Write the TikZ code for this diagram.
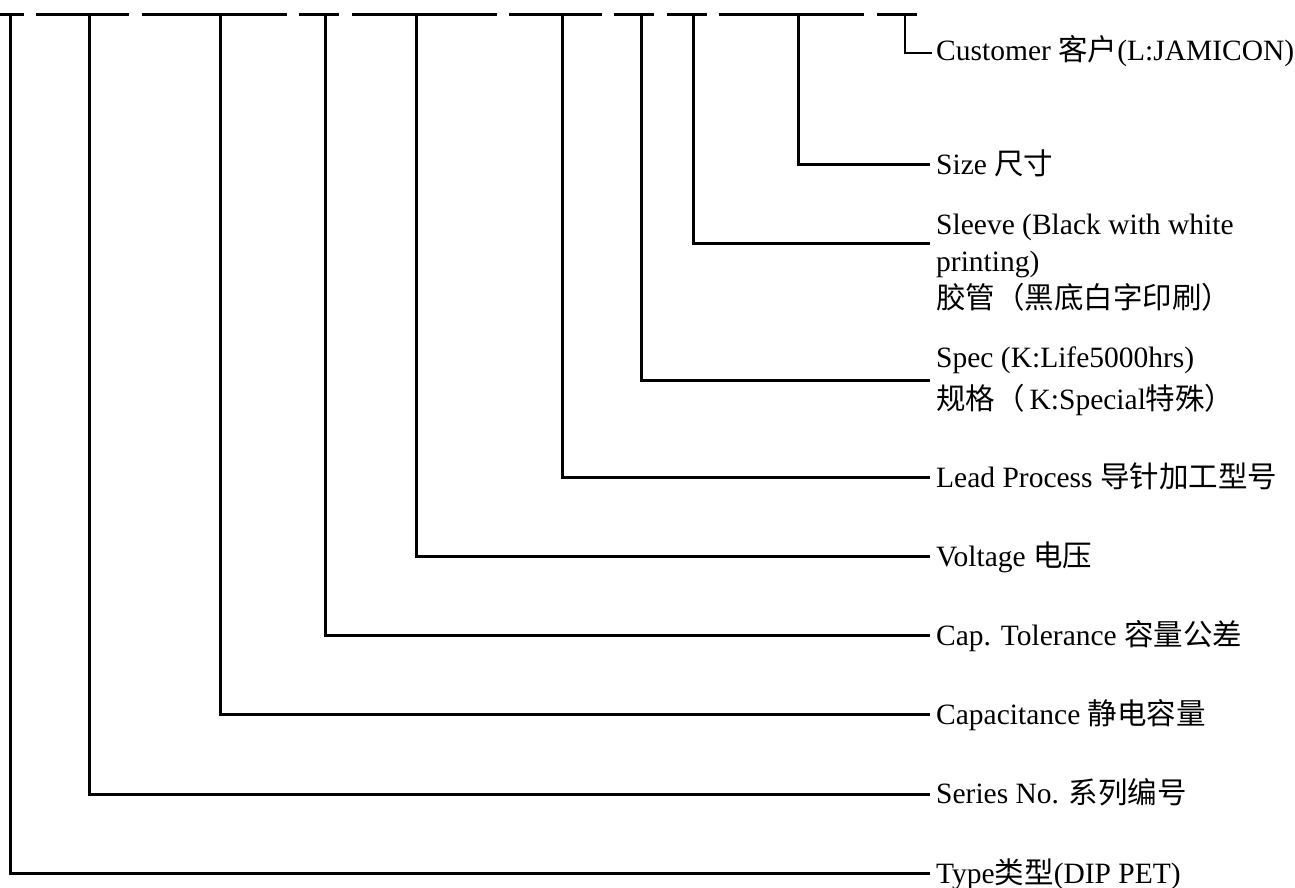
\documentclass[tikz,border=0pt]{standalone}
\usepackage{fontspec}
\setmainfont{Liberation Serif}
\newfontfamily\cjk{Noto Sans CJK SC}
\begin{document}
\begin{tikzpicture}[x=1pt,y=-1pt,
  lbl/.style={anchor=base west,inner sep=0pt,font=\fontsize{29.5}{38}\selectfont},
  wire/.style={line width=3pt,line cap=butt},
  thin wire/.style={line width=2.2pt}]
\useasboundingbox (0,0) rectangle (1295,888);
% top dashed line
\foreach \a/\b in {0/24,36/129,142/287,299/339,352/497,509/602,614/654,667/707,719/864,877/917}
  \draw[wire] (\a,15) -- (\b,15);
% labels
\node[lbl] (cust) at (936,61) {Customer {\cjk 客户}(L:JAMICON)};
\node[lbl] (size) at (936,174) {Size {\cjk 尺寸}};
\node[lbl] (sleeveA) at (936,234) {Sleeve (Black with white};
\node[lbl] (sleeveB) at (936,271) {printing)};
\node[lbl] (sleeveC) at (936,308) {\cjk 胶管（黑底白字印刷）};
\node[lbl] (specA) at (936,367) {Spec (K:Life5000hrs)};
\node[lbl] (specB) at (936,409) {{\cjk 规格（}\,K:Special{\cjk 特殊）}};
\node[lbl] (lead) at (936,487) {Lead Process {\cjk 导针加工型号}};
\node[lbl] (volt) at (936,566.5) {Voltage {\cjk 电压}};
\node[lbl] (tol) at (936,645.5) {Cap. Tolerance {\cjk 容量公差}};
\node[lbl] (capa) at (936,724.5) {Capacitance {\cjk 静电容量}};
\node[lbl] (ser) at (936,803.5) {Series No. {\cjk 系列编号}};
\node[lbl] (typ) at (936,883) {Type{\cjk 类型}(DIP PET)};
% top points and end points
\foreach \n/\x/\y in {t/10/873,s/89/794,c/220/714,o/325/635,v/416/556,l/562/477,p/641/380,e/693/243,z/798/164}{
  \coordinate (top\n) at (\x,13.5);
  \coordinate (end\n) at (930,\y);
}
\coordinate (topu) at (905,14);
\coordinate (endu) at (932,53);
\draw[wire] (topt) |- (endt);
\draw[wire] (tops) |- (ends);
\draw[wire] (topc) |- (endc);
\draw[wire] (topo) |- (endo);
\draw[wire] (topv) |- (endv);
\draw[wire] (topl) |- (endl);
\draw[wire] (topp) |- (endp);
\draw[wire] (tope) |- (ende);
\draw[wire] (topz) |- (endz);
\draw[thin wire] (topu) |- (endu);
\end{tikzpicture}
\end{document}
